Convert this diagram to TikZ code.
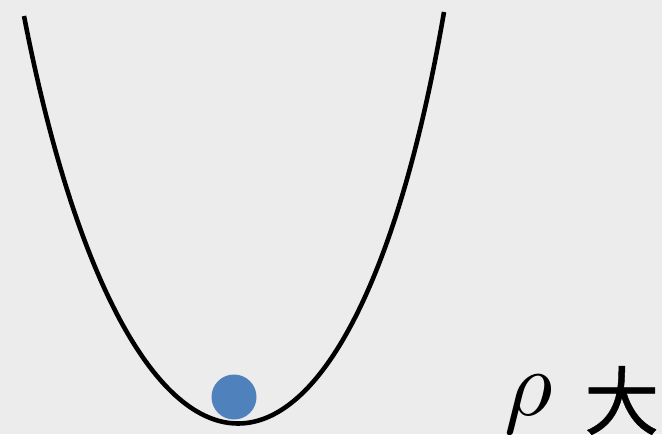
\documentclass[tikz,border=0pt]{standalone}
\usepackage{fontspec}
\usepackage{xcolor}
\newfontfamily\cjkfont[FakeBold=0.6]{Noto Sans CJK SC}
\usetikzlibrary{calc,positioning}
\definecolor{WellPaper}{HTML}{ECECEC}
\definecolor{WellLine}{HTML}{000000}
\definecolor{WellBall}{HTML}{4F81BD}

\begin{document}
\begin{tikzpicture}[x=0.03cm,y=-0.03cm]
        \fill[WellPaper] (0,0) rectangle (662,434);
        \useasboundingbox (0,0) rectangle (662,434);
        \clip (0,0) rectangle (662,434);

        \coordinate (wellleft) at (24,16);
        \coordinate (wellright) at (444,12);
        \draw[WellLine,line width=3.9pt]
          (wellleft) .. controls (130,560) and (350,560) .. (wellright);

        \node[circle,fill=WellBall,inner sep=0pt,
          minimum size=1.35cm] (ball) at (234,397) {};

        \node[anchor=base west,inner sep=0pt,scale=8] (rho) at (503,415) {$\rho$};
        \node[anchor=base west,inner sep=0pt,
          font=\cjkfont\fontsize{64}{72}\selectfont] (big) at (584,429) {大};
      \end{tikzpicture}
\end{document}
